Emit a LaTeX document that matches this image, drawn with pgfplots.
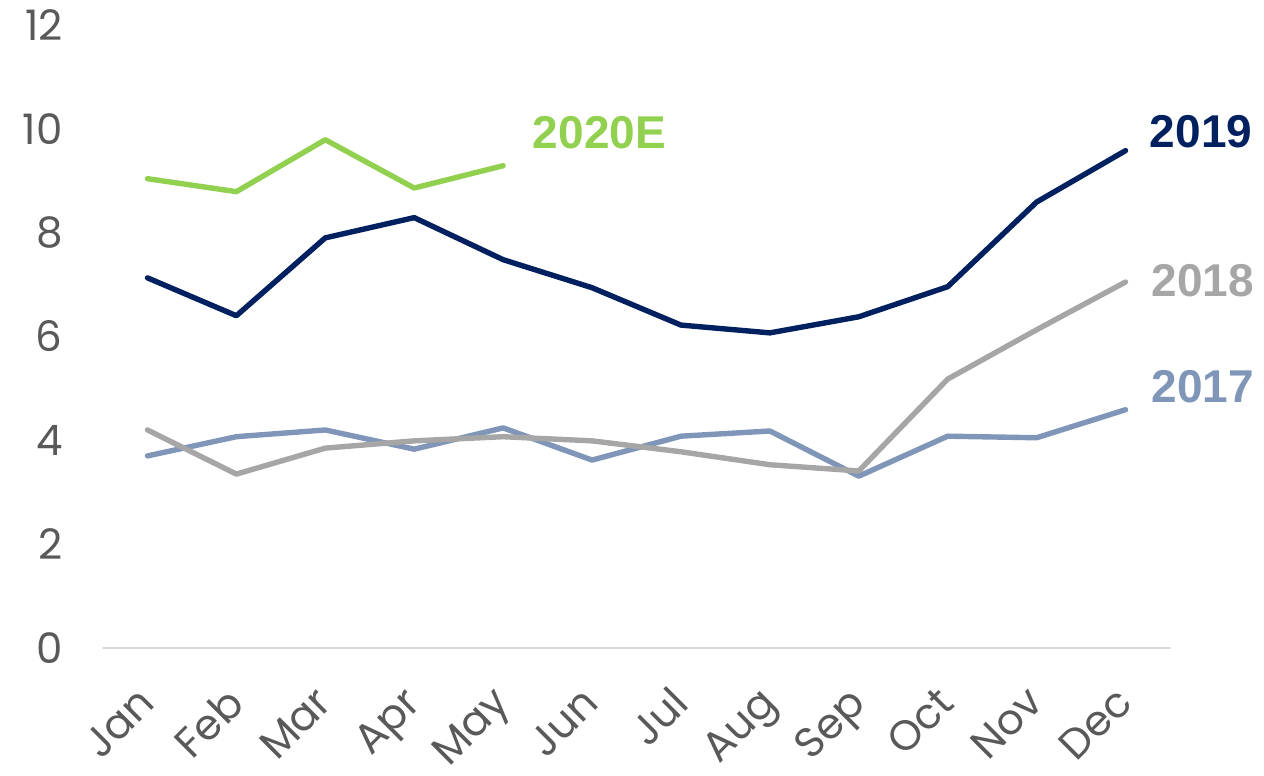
\documentclass[border=0pt]{standalone}
\usepackage{fontspec}
\setmainfont{Poppins}
\newfontfamily\labfont{Liberation Sans}
\usepackage{pgfplots}
\pgfplotsset{compat=1.18}
\definecolor{cGreen}{HTML}{92D050}
\definecolor{cNavy}{HTML}{002060}
\definecolor{cGrey}{HTML}{A6A6A6}
\definecolor{cBlue}{HTML}{7F96B8}
\definecolor{cTick}{HTML}{595959}
\definecolor{cAxis}{HTML}{D9D9D9}
\begin{document}
\begin{tikzpicture}[x=1pt,y=1pt]
\begin{axis}[
  at={(0,0)}, anchor=south west,
  width=533.5pt, height=311.5pt, scale only axis,
  xmin=-0.5, xmax=11.5, ymin=0, ymax=12,
  xtick={0,...,11},
  xticklabels={Jan,Feb,Mar,Apr,May,Jun,Jul,Aug,Sep,Oct,Nov,Dec},
  ytick={0,2,...,12},
  axis y line*=left,
  axis x line*=bottom,
  y axis line style={draw=none},
  x axis line style={cAxis, line width=0.8pt, -},
  major tick length=0pt,
  tick style={draw=none},
  /pgf/number format/assume math mode=true,
  ticklabel style={font=\fontsize{21}{24}\selectfont, text=cTick},
  xticklabel style={xshift=-6pt, yshift=-18pt, rotate=45, anchor=north east, inner sep=0pt},
  yticklabel style={anchor=east, inner sep=0pt, xshift=-20pt},
  clip=false,
  line join=round, line cap=round,
]
\addplot[cBlue, line width=2.7pt] coordinates {
(0,3.70) (1,4.07) (2,4.20) (3,3.83) (4,4.24) (5,3.62) (6,4.08) (7,4.18) (8,3.31) (9,4.08) (10,4.05) (11,4.59)};
\addplot[cGrey, line width=2.7pt] coordinates {
(0,4.20) (1,3.35) (2,3.85) (3,3.99) (4,4.07) (5,3.99) (6,3.78) (7,3.53) (8,3.41) (9,5.18) (10,6.13) (11,7.05)};
\addplot[cNavy, line width=2.7pt] coordinates {
(0,7.13) (1,6.40) (2,7.90) (3,8.29) (4,7.48) (5,6.94) (6,6.22) (7,6.07) (8,6.38) (9,6.96) (10,8.59) (11,9.58)};
\addplot[cGreen, line width=2.7pt] coordinates {
(0,9.04) (1,8.79) (2,9.79) (3,8.86) (4,9.29)};
\node[anchor=west, inner sep=0pt, text=cGreen, font=\labfont\bfseries\fontsize{23}{26}\selectfont] at (axis cs:4.33,9.92) {2020E};
\node[anchor=west, inner sep=0pt, text=cNavy, font=\labfont\bfseries\fontsize{23}{26}\selectfont] at (axis cs:11.27,9.94) {2019};
\node[anchor=west, inner sep=0pt, text=cGrey, font=\labfont\bfseries\fontsize{23}{26}\selectfont] at (axis cs:11.29,7.07) {2018};
\node[anchor=west, inner sep=0pt, text=cBlue, font=\labfont\bfseries\fontsize{23}{26}\selectfont] at (axis cs:11.29,5.03) {2017};
\end{axis}
\useasboundingbox (-51.5,-60) rectangle (580.5,324);
\end{tikzpicture}
\end{document}
